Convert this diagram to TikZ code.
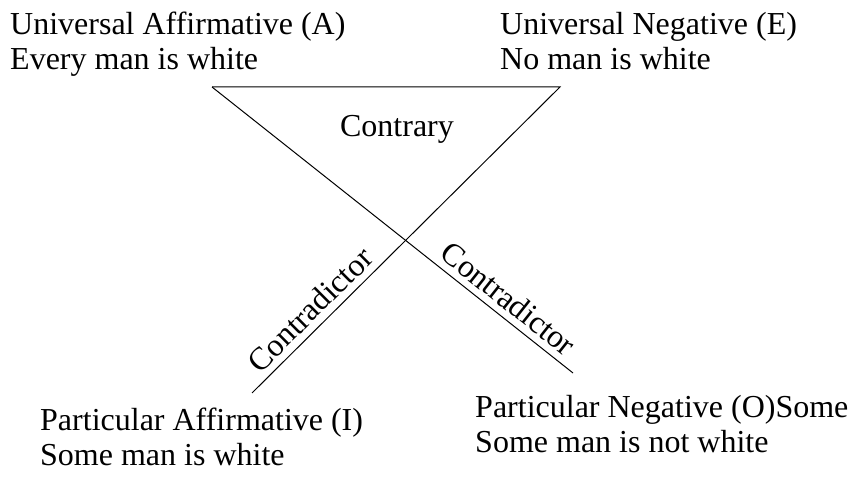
\documentclass[tikz,border=0pt]{standalone}
\usepackage{fontspec}
\setmainfont{Liberation Serif}

\begin{document}
\begin{tikzpicture}[x=1pt, y=1pt,
  every node/.style={font=\fontsize{32}{35}\selectfont},
  prop/.style={anchor=north west, inner sep=0pt, align=left},
  rel/.style={line width=1pt},
  lbl/.style={sloped, above, inner sep=7pt}]
\useasboundingbox (0,0) rectangle (853,478);
% corners of the square
\coordinate (A) at (212,391);
\coordinate (E) at (560,391);
\coordinate (I) at (252,85);
\coordinate (O) at (573,105);
% propositions
\node[prop] (univaff) at (10,466) {Universal Affirmative (A)\\Every man is white};
\node[prop] (univneg) at (500,466) {Universal Negative (E)\\No man is white};
\node[prop] (partaff) at (40,70) {Particular Affirmative (I)\\Some man is white};
\node[prop] (partneg) at (475,83) {Particular Negative (O)Some\\Some man is not white};
% relations
\draw[rel] (A) -- (E) -- (I);
\draw[rel] (A) -- (O);
\node[anchor=base] (contrary) at (397,341) {Contrary};
\path (I) -- (E) node[lbl, pos=0.23] (contrI) {Contradictor};
\path (A) -- (O) node[lbl, pos=0.79] (contrO) {Contradictor};
\end{tikzpicture}
\end{document}
